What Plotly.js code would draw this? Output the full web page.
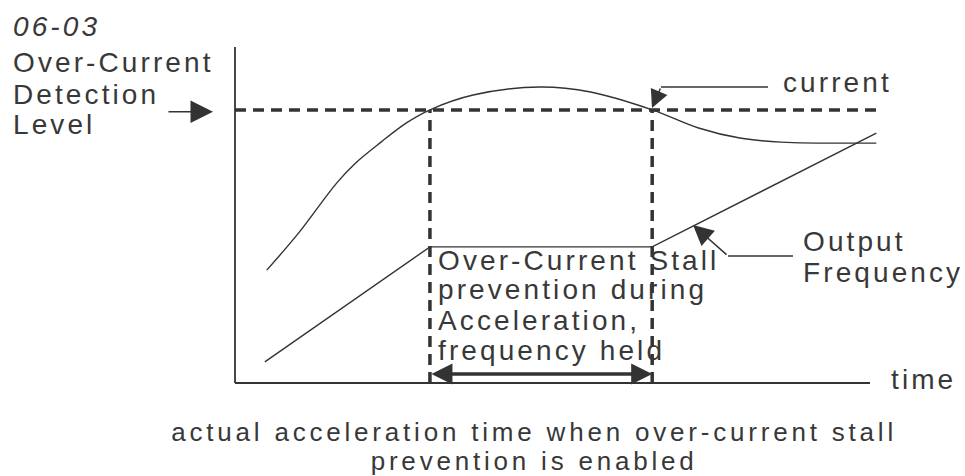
<!DOCTYPE html>
<html>
<head>
<meta charset="utf-8">
<script src="https://cdn.plot.ly/plotly-3.0.1.min.js"></script>
<style>
  html, body { margin: 0; padding: 0; background: #fff; }
  #chart { width: 965px; height: 476px; }
  text { letter-spacing: 3.1px; }
  g.annotation[data-index="12"] text, g.annotation[data-index="13"] text { letter-spacing: 3.8px; }
</style>
</head>
<body>
<div id="chart"></div>
<script>
// ---- data (time units along x, level units along y; axis box is 10 x 10) ----
const currentT = [0.5, 1.0, 1.6, 1.9, 2.3, 2.7, 3.07, 3.75, 4.8, 5.6, 6.57, 7.3, 7.95, 8.6, 10.1];
const currentV = [3.36, 4.46, 5.95, 6.55, 7.17, 7.74, 8.13, 8.57, 8.81, 8.66, 8.13, 7.59, 7.29, 7.17, 7.14];

const freqT = [0.47, 3.07, 6.57, 10.1];
const freqV = [0.63, 4.05, 4.05, 7.44];

const detectionLevel = 8.125;      // over-current detection level
const stallStart = 3.07;           // start of stall prevention
const stallEnd = 6.57;             // end of stall prevention
const axisLength = 10;
const dashEnd = 10.11;

const titleLines = ["Over-Current", "Detection", "Level"];
const stallLines = ["Over-Current Stall", "prevention during", "Acceleration,", "frequency held"];
const freqLines = ["Output", "Frequency"];
const captionLines = ["actual acceleration time when over-current stall", "prevention is enabled"];

// ---- styling ----
const INK = '#333333';
const TXT = '#383838';
const FONT = 'Liberation Sans, Arial, sans-serif';
const FS = 28;

const traces = [
  { x: currentT, y: currentV, mode: 'lines', line: { color: INK, width: 1.4, shape: 'spline', smoothing: 1 }, hoverinfo: 'skip' },
  { x: freqT, y: freqV, mode: 'lines', line: { color: INK, width: 1.4 }, hoverinfo: 'skip' },
  // leader segments of the bent callouts
  { x: [6.709, 8.394], y: [8.81, 8.81], mode: 'lines', line: { color: INK, width: 1.4 }, hoverinfo: 'skip' },
  { x: [7.764, 8.787], y: [3.78, 3.78], mode: 'lines', line: { color: INK, width: 1.4 }, hoverinfo: 'skip' }
];

const dash = '11px,7px';
const shapes = [
  { type: 'line', x0: 0, x1: 0, y0: 0, y1: axisLength, line: { color: INK, width: 1.8 } },
  { type: 'line', x0: 0, x1: axisLength, y0: 0, y1: 0, line: { color: INK, width: 1.8 } },
  { type: 'line', x0: 0, x1: dashEnd, y0: detectionLevel, y1: detectionLevel, line: { color: INK, width: 3.5, dash: dash } },
  { type: 'line', x0: stallStart, x1: stallStart, y0: 0, y1: detectionLevel, line: { color: INK, width: 3.5, dash: dash } },
  { type: 'line', x0: stallEnd, x1: stallEnd, y0: 0, y1: detectionLevel, line: { color: INK, width: 3.5, dash: dash } }
];

function label(text, x, y, opts) {
  return Object.assign({
    text: text, x: x, y: y, xref: 'x', yref: 'y', showarrow: false,
    xanchor: 'left', yanchor: 'middle', borderpad: 0,
    font: { family: FONT, size: FS, color: TXT }
  }, opts || {});
}
function arrow(x, y, ax, ay, size, width, both) {
  const a = {
    text: '', x: x, y: y, ax: ax, ay: ay, xref: 'x', yref: 'y', axref: 'x', ayref: 'y',
    showarrow: true, arrowhead: 2, arrowsize: size, arrowwidth: width, arrowcolor: INK, standoff: 0
  };
  if (both) { a.arrowside = 'end+start'; a.startarrowhead = 2; a.startarrowsize = size; a.startstandoff = 0; }
  return a;
}

const captionFont = { family: FONT, size: 26, color: TXT };

const annotations = [
  label('<i>06-03</i>', -3.512, 10.625),
  label(titleLines[0], -3.512, 9.55),
  label(titleLines[1], -3.512, 8.6),
  label(titleLines[2], -3.512, 7.68),
  label(stallLines[0], 3.18, 3.66),
  label(stallLines[1], 3.18, 2.77),
  label(stallLines[2], 3.18, 1.875),
  label(stallLines[3], 3.18, 0.98),
  label('current', 8.614, 8.95),
  label(freqLines[0], 8.929, 4.2),
  label(freqLines[1], 8.929, 3.3),
  label('time', 10.315, 0.1),
  label(captionLines[0], 4.709, -1.458, { xanchor: 'center', font: captionFont }),
  label(captionLines[1], 4.709, -2.333, { xanchor: 'center', font: captionFont }),
  arrow(-0.346, 8.07, -1.071, 8.07, 3, 1.5),
  arrow(6.567, 8.185, 6.709, 8.81, 2.4, 1.5),
  arrow(7.213, 4.702, 7.764, 3.78, 2.7, 1.5),
  arrow(stallEnd, 0.268, stallStart, 0.268, 1.2, 3.5, true)
];

const layout = {
  width: 965, height: 476,
  margin: { l: 0, r: 0, t: 0, b: 0 },
  paper_bgcolor: '#ffffff', plot_bgcolor: '#ffffff',
  showlegend: false,
  xaxis: { range: [-3.7008, 11.4961], visible: false, fixedrange: true },
  yaxis: { range: [-2.7679, 11.3988], visible: false, fixedrange: true },
  shapes: shapes,
  annotations: annotations,
  font: { family: FONT, color: TXT }
};

Plotly.newPlot('chart', traces, layout, { staticPlot: true, displayModeBar: false });
</script>
</body>
</html>
